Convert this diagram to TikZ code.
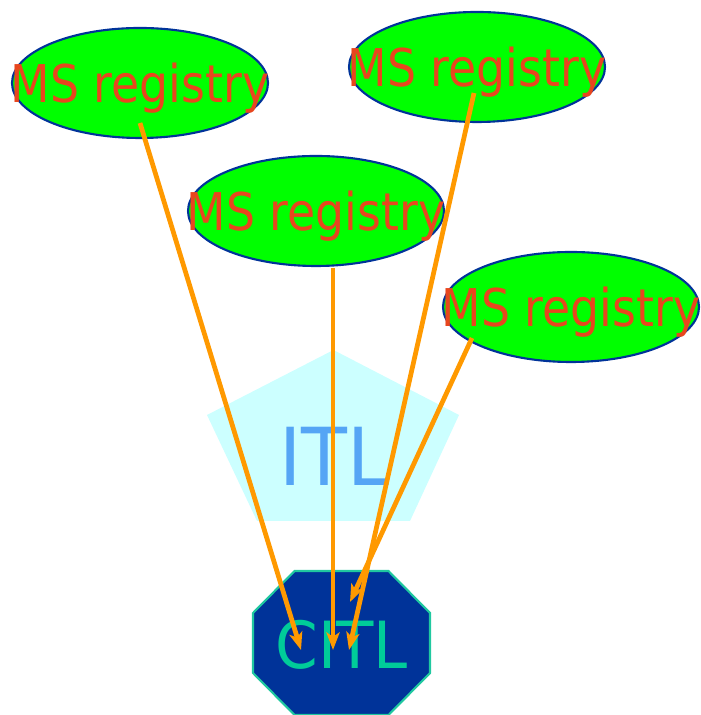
\documentclass[tikz,border=0pt]{standalone}
\usepackage{fontspec}
\setmainfont{DejaVu Sans}
\newfontfamily\regfont[FakeStretch=0.88]{DejaVu Sans}
\newfontfamily\itlfont[FakeStretch=0.94]{DejaVu Sans}
\usetikzlibrary{arrows.meta}
\usetikzlibrary{shapes.geometric}
\definecolor{regGreen}{HTML}{00FF00}
\definecolor{regBlue}{HTML}{003399}
\definecolor{regText}{HTML}{E8461E}
\definecolor{flowOrange}{HTML}{FF9900}
\definecolor{itlFill}{HTML}{CCFFFF}
\definecolor{itlText}{HTML}{55A5F5}
\definecolor{citlText}{HTML}{00CC99}
\definecolor{citlEdge}{HTML}{20C8A0}
\tikzset{
  registry/.style={ellipse, draw=regBlue, fill=regGreen, line width=1.2pt,
    minimum width=5.12cm, minimum height=2.2cm, inner sep=0pt},
  regtext/.style={inner sep=0pt, text depth=0pt, text=regText,
    font=\regfont\fontsize{29.6}{30}\selectfont},
  flow/.style={draw=flowOrange, line width=2.7pt,
    -{Stealth[length=10pt,width=7.5pt,inset=2.5pt]}}
}

\begin{document}
\begin{tikzpicture}
\useasboundingbox (0,0) rectangle (14,14.3);
% ITL pentagon
\fill[itlFill] (4.14,6.00) -- (6.67,7.30) -- (9.18,6.00) -- (8.20,3.88) -- (5.14,3.88) -- cycle;
\node [inner sep=0pt, text depth=0pt, text=itlText, font=\itlfont\fontsize{45.5}{46}\selectfont] (itl) at (6.68,5.18) {ITL};
% CITL octagon
\draw[fill=regBlue, draw=citlEdge, line width=1.2pt, shift={(6.83,1.44)}]
  (-0.94,1.44) -- (0.94,1.44) -- (1.77,0.6) -- (1.77,-0.6) -- (0.94,-1.44)
  -- (-0.94,-1.44) -- (-1.77,-0.6) -- (-1.77,0.6) -- cycle;
\node [inner sep=0pt, text depth=0pt, text=citlText, font=\itlfont\fontsize{37}{38}\selectfont] (citl) at (6.83,1.42) {CITL};
% registries
\node [registry] (ms1) at (2.80,12.64) {};
\node [regtext] (ms1txt) at (ms1) {MS registry};
\node [registry] (ms2) at (9.54,12.96) {};
\node [regtext] (ms2txt) at (ms2) {MS registry};
\node [registry] (ms3) at (6.32,10.08) {};
\node [regtext] (ms3txt) at (ms3) {MS registry};
\node [registry] (ms4) at (11.42,8.16) {};
\node [regtext] (ms4txt) at (ms4) {MS registry};
% arrow ends
\coordinate (from1) at (2.80,11.84);
\coordinate (from2) at (6.66,8.94);
\coordinate (from3) at (9.48,12.44);
\coordinate (from4) at (9.44,7.54);
\coordinate (to1) at (6.02,1.30);
\coordinate (to2) at (6.66,1.30);
\coordinate (to3) at (6.98,1.30);
\coordinate (to4) at (7.00,2.26);
\draw[flow] (from1) -- (to1);
\draw[flow] (from2) -- (to2);
\draw[flow] (from3) -- (to3);
\draw[flow] (from4) -- (to4);
\end{tikzpicture}
\end{document}
